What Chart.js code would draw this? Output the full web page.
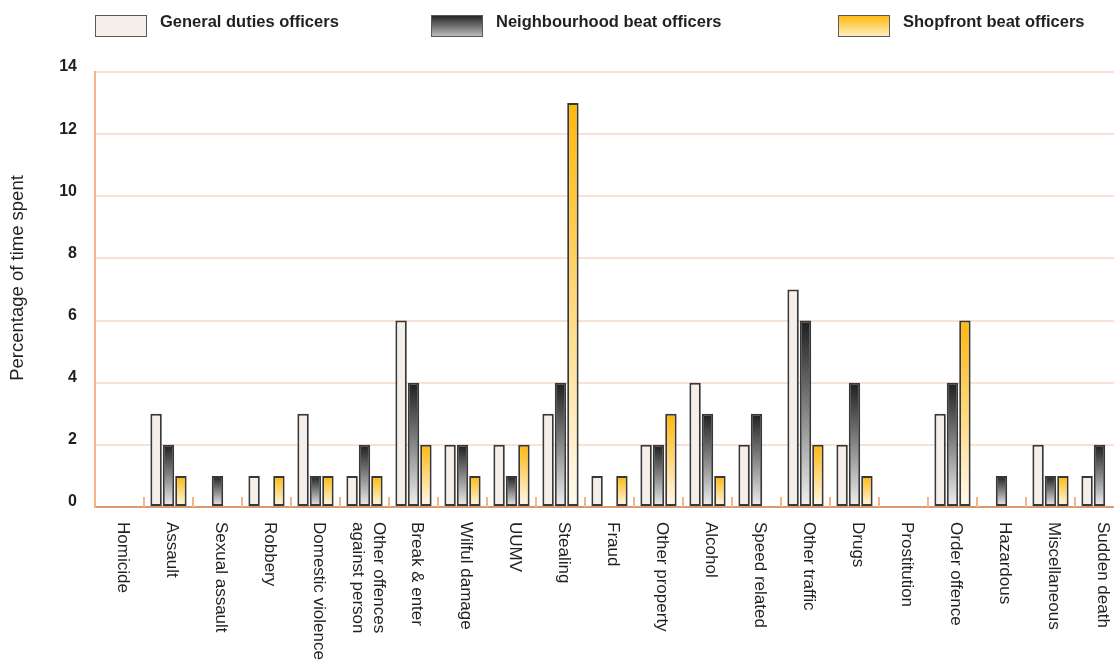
<!DOCTYPE html>
<html>
<head>
<meta charset="utf-8">
<title>Percentage of time spent by offence type</title>
<script src="https://cdn.jsdelivr.net/npm/chart.js@4.4.1/dist/chart.umd.min.js"></script>
<style>
  html, body { margin: 0; padding: 0; background: #ffffff; overflow: hidden; width: 1114px; height: 668px; }
  canvas { display: block; }
</style>
</head>
<body>
<canvas id="chart" width="1124" height="668"></canvas>
<script>
// Offence categories (an array entry is a label split over two lines)
const categories = [
  'Homicide', 'Assault', 'Sexual assault', 'Robbery', 'Domestic violence',
  ['Other offences', 'against person'], 'Break & enter', 'Wilful damage', 'UUMV',
  'Stealing', 'Fraud', 'Other property', 'Alcohol', 'Speed related', 'Other traffic',
  'Drugs', 'Prostitution', 'Order offence', 'Hazardous', 'Miscellaneous', 'Sudden death'
];

const seriesNames = ['General duties officers', 'Neighbourhood beat officers', 'Shopfront beat officers'];

// Percentage of time spent on each offence type
const generalDuties     = [0, 3, 0, 1, 3, 1, 6, 2, 2, 3, 1, 2, 4, 2, 7, 2, 0, 3, 0, 2, 1];
const neighbourhoodBeat = [0, 2, 1, 0, 1, 2, 4, 2, 1, 4, 0, 2, 3, 3, 6, 4, 0, 4, 1, 1, 2];
const shopfrontBeat     = [0, 1, 0, 1, 1, 1, 2, 1, 2, 13, 1, 3, 1, 0, 2, 1, 0, 6, 0, 1, 0];

const yTicks = [0, 2, 4, 6, 8, 10, 12, 14];
const yTitle = 'Percentage of time spent';

// Fill styles: top colour, bottom colour of each series' vertical gradient
const barFills = [
  ['#f6efe9', '#f6efe9'],
  ['#1e1e1e', '#f1f1f1'],
  ['#ffb70a', '#fffaf0']
];
const legendFills = [
  ['#f6efe9', '#f6efe9'],
  ['#1e1e1e', '#c2c2c2'],
  ['#ffb70a', '#ffefc6']
];

const TEXT = '#231f20';
const FONT = '"Liberation Sans", Arial, sans-serif';

// Gradient that runs over each bar's own height, from its top down to zero
function barGradient(stops) {
  return (c) => {
    const chart = c.chart;
    const y = chart.scales && chart.scales.y;
    if (!y || c.type !== 'data') return stops[0];
    const yTop = y.getPixelForValue(c.raw);
    const yBase = y.getPixelForValue(0);
    if (!isFinite(yTop) || !isFinite(yBase) || yTop === yBase) return stops[0];
    const g = chart.ctx.createLinearGradient(0, yTop, 0, yBase);
    g.addColorStop(0, stops[0]);
    g.addColorStop(1, stops[1]);
    return g;
  };
}

// Small upward tick marks on the base line between categories
const categoryTicks = {
  id: 'categoryTicks',
  beforeDatasetsDraw(chart, args, opts) {
    const x = chart.scales.x;
    const { ctx, chartArea } = chart;
    const half = (x.getPixelForValue(1) - x.getPixelForValue(0)) / 2;
    ctx.save();
    ctx.strokeStyle = opts.color;
    ctx.lineWidth = opts.width;
    for (let i = 1; i <= categories.length; i++) {
      const px = Math.round(x.getPixelForValue(i) - half);
      ctx.beginPath();
      ctx.moveTo(px, chartArea.bottom);
      ctx.lineTo(px, chartArea.bottom - opts.length);
      ctx.stroke();
    }
    ctx.restore();
  }
};

// Category names, turned to read downwards under each group of bars
const categoryLabels = {
  id: 'categoryLabels',
  afterDraw(chart, args, opts) {
    const x = chart.scales.x;
    const ctx = chart.ctx;
    ctx.save();
    ctx.font = opts.font;
    ctx.fillStyle = TEXT;
    ctx.textAlign = 'left';
    ctx.textBaseline = 'middle';
    chart.data.labels.forEach((label, i) => {
      const lines = Array.isArray(label) ? label : [label];
      const cx = x.getPixelForValue(i);
      lines.forEach((line, j) => {
        const lx = cx + opts.nudge + ((lines.length - 1) / 2 - j) * opts.lineGap;
        ctx.save();
        ctx.translate(lx, opts.top);
        ctx.rotate(Math.PI / 2);
        ctx.fillText(line, 0, 0);
        ctx.restore();
      });
    });
    ctx.restore();
  }
};

// Vertical axis title, reading upwards along the left edge
const axisTitle = {
  id: 'axisTitle',
  afterDraw(chart, args, opts) {
    const ctx = chart.ctx;
    ctx.save();
    ctx.font = opts.font;
    ctx.fillStyle = TEXT;
    ctx.textAlign = 'center';
    ctx.textBaseline = 'middle';
    ctx.translate(opts.x, opts.y);
    ctx.rotate(-Math.PI / 2);
    ctx.fillText(opts.text, 0, 0);
    ctx.restore();
  }
};

// Legend row across the top
const topLegend = {
  id: 'topLegend',
  afterDraw(chart, args, opts) {
    const ctx = chart.ctx;
    ctx.save();
    chart.data.datasets.forEach((ds, i) => {
      const bx = opts.boxX[i];
      const g = ctx.createLinearGradient(0, opts.boxY, 0, opts.boxY + opts.boxH);
      g.addColorStop(0, legendFills[i][0]);
      g.addColorStop(1, legendFills[i][1]);
      ctx.fillStyle = g;
      ctx.fillRect(bx, opts.boxY, opts.boxW, opts.boxH);
      ctx.strokeStyle = '#5a5a5a';
      ctx.lineWidth = 1;
      ctx.strokeRect(bx + 0.5, opts.boxY + 0.5, opts.boxW - 1, opts.boxH - 1);
      ctx.fillStyle = TEXT;
      ctx.font = opts.font;
      ctx.textAlign = 'left';
      ctx.textBaseline = 'alphabetic';
      ctx.fillText(ds.label, bx + opts.boxW + opts.gap, opts.textY);
    });
    ctx.restore();
  }
};

const seriesData = [generalDuties, neighbourhoodBeat, shopfrontBeat];

new Chart(document.getElementById('chart'), {
  type: 'bar',
  data: {
    labels: categories,
    datasets: seriesData.map((values, i) => ({
      label: seriesNames[i],
      data: values,
      backgroundColor: barGradient(barFills[i]),
      borderColor: '#383838',
      borderWidth: 2,
      borderSkipped: false,
      barPercentage: 0.92,
      categoryPercentage: 0.76
    }))
  },
  options: {
    responsive: false,
    animation: false,
    devicePixelRatio: 1,
    layout: { padding: { top: 72, right: 0, bottom: 0, left: 0 } },
    plugins: {
      legend: { display: false },
      tooltip: { enabled: false },
      categoryTicks: { color: '#f5b48a', width: 2, length: 10 },
      categoryLabels: { font: '17px ' + FONT, top: 522, nudge: 3.5, lineGap: 21 },
      axisTitle: { text: yTitle, font: '18.5px ' + FONT, x: 18, y: 278 },
      topLegend: {
        boxX: [95, 431, 838], boxY: 15, boxW: 52, boxH: 22, gap: 13, textY: 27,
        font: 'bold 16.5px ' + FONT
      }
    },
    scales: {
      x: {
        z: 1,
        grid: { display: false },
        border: { display: true, color: '#d9996f', width: 2 },
        ticks: { display: false },
        afterFit: (scale) => { scale.height = 161; }
      },
      y: {
        min: yTicks[0],
        max: yTicks[yTicks.length - 1],
        ticks: {
          stepSize: yTicks[1] - yTicks[0],
          color: TEXT,
          font: { family: FONT, size: 16, weight: 'bold' },
          padding: 18,
          labelOffset: -5
        },
        grid: { color: '#f8e2d6', lineWidth: 2, drawTicks: false },
        border: { display: true, color: '#f7b285', width: 2 },
        afterFit: (scale) => { scale.width = 95; }
      }
    }
  },
  plugins: [categoryTicks, categoryLabels, axisTitle, topLegend]
});
</script>
</body>
</html>
